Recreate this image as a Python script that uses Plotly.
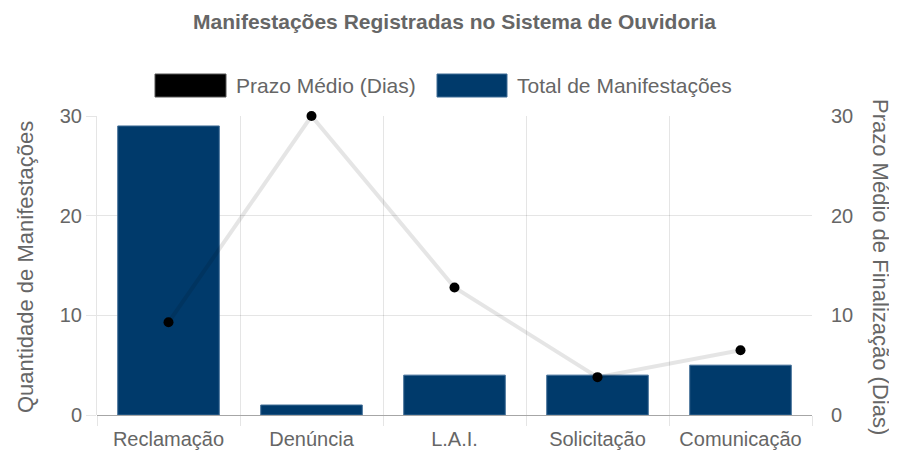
import plotly.graph_objects as go

categories = ["Reclamação", "Denúncia", "L.A.I.", "Solicitação", "Comunicação"]
total_manifestacoes = [29, 1, 4, 4, 5]
prazo_medio = [9.3, 30, 12.8, 3.8, 6.5]
y_ticks = [0, 10, 20, 30]

# page body has an 8px margin: figure drawn in page coords shifted by OFF
OFF = 8
W, H = 897 - OFF, 454 - OFF
L, R, T, B = 97 - OFF, 85, 116 - OFF, 39
PW, PH = W - L - R, H - T - B

def px(x):
    return (x - OFF - L) / PW

def py(y):
    return (H - B - (y - OFF)) / PH

FONT = "Liberation Sans, Arial, sans-serif"
GREY = "#666666"
BLUE = "#003a6b"
GRID = "rgba(0,0,0,0.1)"

fig = go.Figure()
fig.add_trace(go.Bar(
    x=categories, y=total_manifestacoes, name="Total de Manifestações",
    marker=dict(color=BLUE, line=dict(color="#3f6c96", width=1)),
    width=0.71, yaxis="y", showlegend=False,
))
fig.add_trace(go.Scatter(
    x=categories, y=prazo_medio, name="Prazo Médio (Dias)", yaxis="y2",
    mode="lines+markers",
    line=dict(color="rgba(0,0,0,0.1)", width=4),
    marker=dict(color="black", size=10),
    showlegend=False, cliponaxis=False,
))

shapes = []
annotations = []
# custom legend
for (x0, x1, col, lc, label) in [
    (155, 226, "black", "#555555", "Prazo Médio (Dias)"),
    (437, 507, BLUE, "#3f6c96", "Total de Manifestações"),
]:
    shapes.append(dict(type="rect", xref="paper", yref="paper",
                       x0=px(x0), x1=px(x1), y0=py(97), y1=py(74),
                       fillcolor=col, line=dict(color=lc, width=1)))
    annotations.append(dict(xref="paper", yref="paper", x=px(x1 + 8), y=py(85.5),
                            xanchor="left", yanchor="middle", showarrow=False,
                            text=label, font=dict(family=FONT, size=21, color=GREY)))

# axis titles
annotations.append(dict(xref="paper", yref="paper", x=px(25), y=py(267),
                        xanchor="center", yanchor="middle", showarrow=False, textangle=-90,
                        text="Quantidade de Manifestações",
                        font=dict(family=FONT, size=22, color=GREY)))
annotations.append(dict(xref="paper", yref="paper", x=px(881), y=py(267),
                        xanchor="center", yanchor="middle", showarrow=False, textangle=90,
                        text="Prazo Médio de Finalização (Dias)",
                        font=dict(family=FONT, size=22, color=GREY)))

fig.update_layout(
    width=W, height=H,
    margin=dict(l=L, r=R, t=T, b=B, autoexpand=False),
    paper_bgcolor="white", plot_bgcolor="white",
    showlegend=False,
    title=dict(text="<b>Manifestações Registradas no Sistema de Ouvidoria</b>",
               x=0.5, xref="paper", y=1 - (22 - OFF) / H, yref="container",
               xanchor="center", yanchor="middle",
               font=dict(family=FONT, size=21, color=GREY)),
    font=dict(family=FONT, size=20, color=GREY),
    xaxis=dict(
        type="category", tickson="boundaries", showgrid=True, gridcolor=GRID,
        ticks="outside", ticklen=10, tickcolor=GRID, automargin=False,
        ticklabelstandoff=10,
        showline=False, tickfont=dict(size=20, color=GREY),
    ),
    yaxis=dict(
        range=[0, 30], tickvals=y_ticks, showgrid=True, gridcolor=GRID,
        ticks="outside", ticklen=10, tickcolor=GRID, automargin=False,
        zeroline=True, zerolinecolor="rgba(0,0,0,0.35)", zerolinewidth=1,
        showline=True, linecolor=GRID,
        tickfont=dict(size=20, color=GREY),
    ),
    yaxis2=dict(
        range=[0, 30], tickvals=y_ticks, overlaying="y", side="right",
        showgrid=False, zeroline=False, showline=False, automargin=False,
        ticks="outside", ticklen=14, tickcolor="rgba(0,0,0,0)",
        tickfont=dict(size=20, color=GREY),
    ),
    shapes=shapes, annotations=annotations,
)

fig.write_html("out.html")
